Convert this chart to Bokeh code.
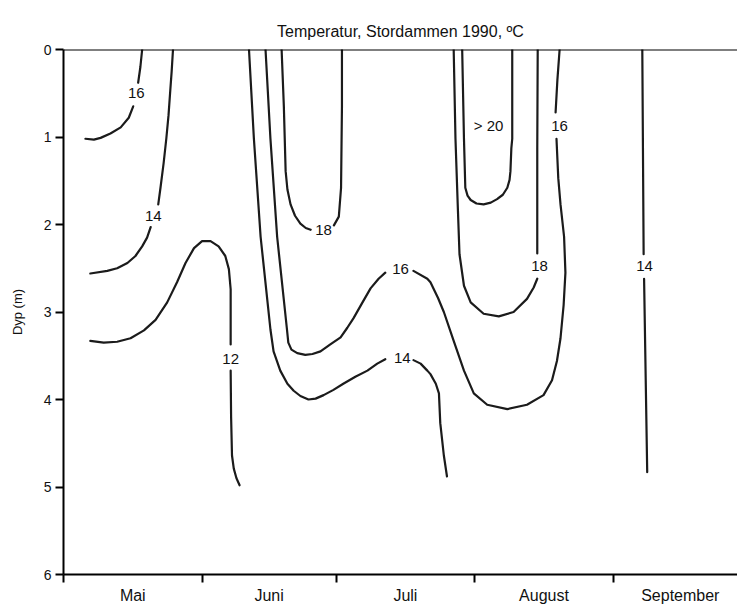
from bokeh.plotting import figure
from bokeh.models import Range1d, FixedTicker, Span, ColumnDataSource
from bokeh.core.properties import value
from bokeh.embed import file_html
from bokeh.resources import INLINE

# x: days since 1 May 1990, y: depth (m)
month_names = ["Mai", "Juni", "Juli", "August", "September"]
month_starts = [0, 31, 61, 92, 123]
month_mids = [15.5, 46.0, 76.5, 107.5, 138.0]
depth_ticks = [0, 1, 2, 3, 4, 5, 6]

# isotherm segments (gaps are where the labels sit)
t16_mai_day_1 = [17.6, 17.2, 16.7]
t16_mai_dep_1 = [0.0, 0.20, 0.38]
t16_mai_day_2 = [15.6, 14.6, 12.8, 10.5, 8.3, 6.8, 4.9]
t16_mai_dep_2 = [0.65, 0.78, 0.89, 0.96, 1.01, 1.03, 1.02]

t14_mai_day_1 = [24.5, 24.2, 23.9, 23.5, 23.0, 22.4, 21.7, 21.2]
t14_mai_dep_1 = [0.0, 0.25, 0.46, 0.75, 1.02, 1.30, 1.58, 1.77]
t14_mai_day_2 = [19.5, 18.7, 17.6, 16.1, 14.3, 12.0, 9.8, 6.0]
t14_mai_dep_2 = [2.03, 2.15, 2.25, 2.36, 2.44, 2.50, 2.53, 2.56]

t12_day_1 = [6.0, 9.0, 12.0, 15.0, 18.0, 20.6, 23.2, 25.4, 27.3, 29.2, 31.0,
             32.9, 34.7, 36.2, 37.0, 37.4, 37.4]
t12_dep_1 = [3.33, 3.35, 3.34, 3.30, 3.21, 3.09, 2.89, 2.66, 2.44, 2.27, 2.19,
             2.19, 2.25, 2.36, 2.51, 2.74, 3.37]
t12_day_2 = [37.4, 37.5, 37.7, 38.1, 38.7, 39.4]
t12_dep_2 = [3.67, 4.20, 4.64, 4.79, 4.90, 4.98]

t14_jun_day_1 = [41.5, 42.6, 44.1, 46.3, 47.0, 48.5, 50.1, 51.5, 53.0, 54.8,
                 56.4, 58.2, 60.4, 62.6, 65.3, 68.0, 70.2, 72.0]
t14_jun_dep_1 = [0.0, 1.02, 2.14, 3.20, 3.45, 3.67, 3.82, 3.90, 3.96, 4.00,
                 3.99, 3.95, 3.89, 3.82, 3.74, 3.67, 3.59, 3.54]
t14_jun_day_2 = [78.3, 79.9, 81.4, 82.1, 83.3, 84.0, 84.3, 85.1, 85.8]
t14_jun_dep_2 = [3.55, 3.59, 3.67, 3.71, 3.82, 3.93, 4.27, 4.64, 4.88]

t16_day_1 = [45.2, 46.3, 47.8, 50.0, 50.3, 51.0, 52.3, 54.1, 55.7, 57.5, 59.7,
             62.0, 63.5, 64.9, 66.9, 68.7, 70.5, 72.0]
t16_dep_1 = [0.0, 1.02, 2.14, 3.20, 3.35, 3.43, 3.47, 3.49, 3.48, 3.45, 3.37,
             3.29, 3.18, 3.07, 2.89, 2.73, 2.62, 2.55]
t16_day_2 = [78.3, 81.4, 82.1, 83.8, 85.1, 87.3, 89.6, 91.8, 94.8, 99.3, 103.7,
             107.4, 109.3, 110.4, 111.2, 111.9, 112.3, 112.0, 111.2, 110.7, 110.3]
t16_dep_2 = [2.53, 2.62, 2.66, 2.84, 3.00, 3.33, 3.67, 3.93, 4.06, 4.11, 4.06,
             3.95, 3.78, 3.56, 3.30, 2.92, 2.55, 2.14, 1.77, 1.47, 1.02]
t16_day_3 = [110.1, 110.5, 111.0]
t16_dep_3 = [0.72, 0.35, 0.0]

t18_jun_day_1 = [48.8, 49.3, 49.7, 50.1, 50.8, 51.8, 53.0, 54.2, 55.3]
t18_jun_dep_1 = [0.0, 0.65, 1.39, 1.60, 1.77, 1.90, 1.99, 2.04, 2.06]
t18_jun_day_2 = [60.5, 61.6, 62.1, 62.3, 62.3]
t18_jun_dep_2 = [2.01, 1.91, 1.58, 0.65, 0.0]

t18_aug_day_1 = [87.3, 87.7, 88.2, 88.6, 89.6, 91.1, 94.0, 97.4, 100.7, 103.7,
                 105.2, 106.0]
t18_aug_dep_1 = [0.0, 1.02, 1.77, 2.34, 2.70, 2.89, 3.02, 3.05, 3.00, 2.85,
                 2.72, 2.62]
t18_aug_day_2 = [106.0, 106.0, 106.1]
t18_aug_dep_2 = [2.33, 1.13, 0.0]

t20_day = [89.2, 89.6, 89.9, 90.4, 91.1, 92.4, 94.0, 95.6, 97.0, 98.3, 99.3,
           99.8, 100.0, 100.2, 100.4, 100.4]
t20_dep = [0.0, 1.02, 1.58, 1.67, 1.72, 1.76, 1.77, 1.75, 1.71, 1.66, 1.58,
           1.49, 1.39, 1.13, 1.02, 0.0]

t14_sep_day_1 = [129.5, 129.8]
t14_sep_dep_1 = [0.0, 2.34]
t14_sep_day_2 = [129.9, 130.6]
t14_sep_dep_2 = [2.62, 4.83]

label_text = ["16", "14", "12", "18", "16", "14", "> 20", "16", "18", "14"]
label_day = [16.3, 20.1, 37.4, 58.2, 75.4, 75.8, 95.1, 111.0, 106.5, 130.0]
label_dep = [0.50, 1.90, 3.54, 2.06, 2.51, 3.52, 0.87, 0.87, 2.47, 2.47]

title_text = "Temperatur, Stordammen 1990, \u00baC"

FONT = "Liberation Sans"
INK = "#1b1b1b"

xs = [t16_mai_day_1, t16_mai_day_2, t14_mai_day_1, t14_mai_day_2, t12_day_1, t12_day_2,
      t14_jun_day_1, t14_jun_day_2, t16_day_1, t16_day_2, t16_day_3,
      t18_jun_day_1, t18_jun_day_2, t18_aug_day_1, t18_aug_day_2, t20_day,
      t14_sep_day_1, t14_sep_day_2]
ys = [t16_mai_dep_1, t16_mai_dep_2, t14_mai_dep_1, t14_mai_dep_2, t12_dep_1, t12_dep_2,
      t14_jun_dep_1, t14_jun_dep_2, t16_dep_1, t16_dep_2, t16_dep_3,
      t18_jun_dep_1, t18_jun_dep_2, t18_aug_dep_1, t18_aug_dep_2, t20_dep,
      t14_sep_dep_1, t14_sep_dep_2]

p = figure(width=737, height=606, x_range=Range1d(0, 150.8), y_range=Range1d(6, 0),
           output_backend="svg", toolbar_location=None,
           min_border_left=63, min_border_right=0, min_border_top=49, min_border_bottom=21)
p.outline_line_color = None
p.grid.visible = False
p.background_fill_color = "white"

p.title.text = title_text
p.title.align = "center"
p.title.text_font = FONT
p.title.text_font_size = "16px"
p.title.text_font_style = "normal"
p.title.text_color = "#111111"
p.title.standoff = 20

# contour lines
p.multi_line(xs=xs, ys=ys, line_color=INK, line_width=2.2,
             line_join="round", line_cap="round")

lab_src = ColumnDataSource(dict(x=label_day, y=label_dep, text=label_text))
p.text(x="x", y="y", text="text", source=lab_src, text_font=value(FONT),
       text_font_size="15px", text_align="center", text_baseline="middle",
       text_color="#111111")

# surface line at depth 0
p.add_layout(Span(location=0, dimension="width", line_color="black", line_width=2))

# x axis (months)
xa = p.xaxis[0]
xa.ticker = FixedTicker(ticks=month_mids, minor_ticks=month_starts)
xa.major_label_overrides = {float(m): n for m, n in zip(month_mids, month_names)}
xa.major_tick_out = 0
xa.major_tick_in = 0
xa.minor_tick_out = 8
xa.minor_tick_in = 0
xa.minor_tick_line_width = 2
xa.minor_tick_line_color = "black"
xa.axis_line_width = 2
xa.axis_line_color = "black"
xa.major_label_standoff = 4
xa.major_label_text_font = FONT
xa.major_label_text_font_size = "16px"
xa.major_label_text_color = "#111111"

# y axis (depth)
ya = p.yaxis[0]
ya.ticker = FixedTicker(ticks=depth_ticks, minor_ticks=[])
ya.major_tick_out = 8
ya.major_tick_in = 0
ya.major_tick_line_width = 2
ya.major_tick_line_color = "black"
ya.axis_line_width = 2
ya.axis_line_color = "black"
ya.major_label_standoff = 4
ya.major_label_text_font = FONT
ya.major_label_text_font_size = "14px"
ya.major_label_text_color = "#111111"
ya.axis_label = "Dyp (m)"
ya.axis_label_text_font = FONT
ya.axis_label_text_font_size = "13px"
ya.axis_label_text_font_style = "normal"
ya.axis_label_text_color = "#111111"
ya.axis_label_standoff = 16

open("out.html", "w").write(file_html(p, INLINE))
